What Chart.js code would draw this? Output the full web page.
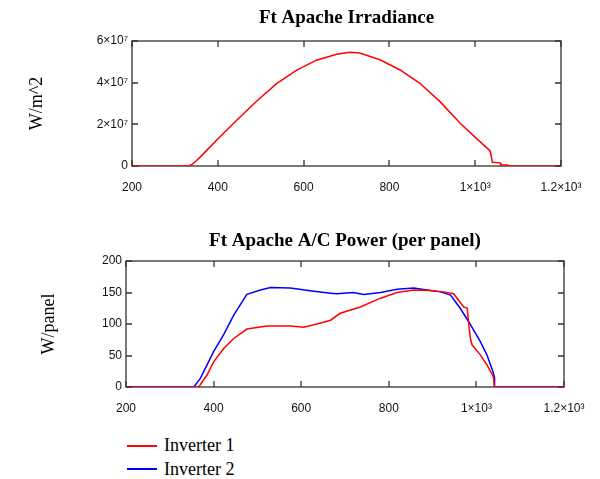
<!DOCTYPE html>
<html>
<head>
<meta charset="utf-8">
<script src="https://cdn.jsdelivr.net/npm/chart.js@4/dist/chart.umd.min.js"></script>
<style>
    body { margin: 0; background: #fff; }
    #wrap { position: relative; width: 600px; height: 479px; }
    canvas { position: absolute; left: 0; }
    #irrChart { top: 0; }
    #powChart { top: 220px; }
    #legend { position: absolute; left: 127px; top: 434px; font: 18px "Liberation Serif", serif; color: #000; }
    .item { height: 23.5px; display: flex; align-items: center; }
    .swatch { width: 30px; height: 2px; margin-right: 7px; }
</style>
</head>
<body>
<div id="wrap">
    <canvas id="irrChart" width="600" height="200"></canvas>
    <canvas id="powChart" width="600" height="200"></canvas>
    <div id="legend"></div>
</div>
<script>
// Irradiancia (minutos del día)
const irrX = [200, 331, 340, 350, 360, 400, 444, 491, 537, 584, 630, 677, 708, 731, 778, 825, 871, 918, 965, 1011, 1035, 1040, 1058, 1060, 1076, 1078, 1200];
const irrY = [0, 0, 0.08e7, 0.25e7, 0.45e7, 1.3e7, 2.2e7, 3.12e7, 3.95e7, 4.6e7, 5.08e7, 5.36e7, 5.46e7, 5.42e7, 5.1e7, 4.61e7, 3.97e7, 3.09e7, 2.05e7, 1.17e7, 0.72e7, 0.18e7, 0.15e7, 0.05e7, 0.05e7, 0, 0];

// Potencia A/C por panel
const inv1X = [200, 366, 385, 400, 423, 446, 476, 522, 575, 606, 636, 667, 689, 735, 781, 819, 857, 895, 925, 948, 971, 979, 984, 987, 990, 1009, 1024, 1039, 1041, 1200];
const inv1Y = [0, 0, 19, 40, 61, 77, 92, 97, 97, 95, 100, 106, 117, 127, 141, 150, 154, 153, 151, 148, 127, 125, 90, 75, 67, 51, 35, 16, 0, 0];
const inv2X = [200, 355, 370, 385, 400, 423, 446, 476, 507, 530, 575, 629, 667, 682, 719, 743, 781, 819, 857, 887, 918, 941, 963, 982, 1009, 1024, 1038, 1041, 1041.5, 1200];
const inv2Y = [0, 0, 14, 35, 56, 83, 114, 147, 154, 158, 157, 152, 149, 148, 150, 147, 150, 155, 157, 154, 151, 146, 125, 104, 72, 51, 24, 16, 0, 0];

const xTicks = [200, 400, 600, 800, 1000, 1200];
const xTickLabels = ['200', '400', '600', '800', '1×10³', '1.2×10³'];
const irrTicks = [0, 2e7, 4e7, 6e7];
const irrTickLabels = ['0', '2×10⁷', '4×10⁷', '6×10⁷'];
const powTicks = [0, 50, 100, 150, 200];

const serif = '"Liberation Serif", "Times New Roman", serif';
const sans = '"Liberation Sans", Arial, sans-serif';

const pares = (xs, ys) => xs.map((x, i) => ({ x: x, y: ys[i] }));

// Marco y marcas hacia dentro
const marco = {
    id: 'marco',
    beforeDatasetsDraw(chart) {
        const { ctx, chartArea: a, scales } = chart;
        ctx.save();
        ctx.strokeStyle = '#333';
        ctx.lineWidth = 1.3;
        ctx.strokeRect(a.left, a.top, a.right - a.left, a.bottom - a.top);
        ctx.beginPath();
        scales.x.ticks.forEach(t => {
            const px = Math.round(scales.x.getPixelForValue(t.value));
            ctx.moveTo(px, a.bottom); ctx.lineTo(px, a.bottom - 6);
            ctx.moveTo(px, a.top); ctx.lineTo(px, a.top + 6);
        });
        scales.y.ticks.forEach(t => {
            const py = Math.round(scales.y.getPixelForValue(t.value));
            ctx.moveTo(a.left, py); ctx.lineTo(a.left + 6, py);
            ctx.moveTo(a.right, py); ctx.lineTo(a.right - 6, py);
        });
        ctx.stroke();
        ctx.restore();
    }
};

function opciones(cfg) {
    return {
        responsive: false,
        animation: false,
        devicePixelRatio: 1,
        layout: { padding: { left: 0, right: cfg.right, top: 0, bottom: 0 } },
        plugins: {
            legend: { display: false },
            tooltip: { enabled: false },
            title: {
                display: true,
                text: cfg.title,
                fullSize: false,
                color: '#000',
                font: { family: serif, size: 19, weight: 'bold' },
                padding: cfg.titlePad
            }
        },
        scales: {
            x: {
                type: 'linear',
                min: 200, max: 1200,
                afterFit: s => { s.height = cfg.xHeight; },
                afterBuildTicks: s => { s.ticks = xTicks.map(v => ({ value: v })); },
                ticks: {
                    padding: 14,
                    color: '#111',
                    font: { family: sans, size: 12 },
                    maxRotation: 0,
                    callback: v => xTickLabels[xTicks.indexOf(v)]
                },
                grid: { display: false, drawTicks: false },
                border: { display: false }
            },
            y: {
                min: 0, max: cfg.yMax,
                afterFit: s => { s.width = cfg.left; },
                afterBuildTicks: s => { s.ticks = cfg.yTicks.map(v => ({ value: v })); },
                ticks: {
                    padding: 4,
                    color: '#111',
                    font: { family: sans, size: 12 },
                    callback: v => cfg.yLabels[cfg.yTicks.indexOf(v)]
                },
                title: {
                    display: true,
                    text: cfg.yTitle,
                    color: '#000',
                    font: { family: serif, size: 18 },
                    padding: { top: cfg.yTitlePad, bottom: 0 }
                },
                grid: { display: false, drawTicks: false },
                border: { display: false }
            }
        }
    };
}

new Chart(document.getElementById('irrChart'), {
    type: 'line',
    data: {
        datasets: [{
            label: 'Irradiance',
            data: pares(irrX, irrY),
            borderColor: '#ff0000',
            borderWidth: 1.5,
            pointRadius: 0,
            tension: 0
        }]
    },
    options: opciones({
        title: 'Ft Apache Irradiance', titlePad: { top: 6.6, bottom: 11.6 },
        right: 39, left: 132, xHeight: 34, yMax: 6e7,
        yTicks: irrTicks, yLabels: irrTickLabels, yTitle: 'W/m^2', yTitlePad: 26
    }),
    plugins: [marco]
});

const potencia = new Chart(document.getElementById('powChart'), {
    type: 'line',
    data: {
        datasets: [{
            label: 'Inverter 1',
            data: pares(inv1X, inv1Y),
            borderColor: '#ff0000',
            borderWidth: 1.5,
            pointRadius: 0,
            tension: 0
        }, {
            label: 'Inverter 2',
            data: pares(inv2X, inv2Y),
            borderColor: '#0000ff',
            borderWidth: 1.5,
            pointRadius: 0,
            tension: 0
        }]
    },
    options: opciones({
        title: 'Ft Apache A/C Power (per panel)', titlePad: { top: 9.6, bottom: 8.6 },
        right: 36, left: 126, xHeight: 33, yMax: 200,
        yTicks: powTicks, yLabels: powTicks.map(String), yTitle: 'W/panel', yTitlePad: 38
    }),
    plugins: [marco]
});

// Leyenda en HTML
const leyenda = document.getElementById('legend');
potencia.data.datasets.forEach(ds => {
    const item = document.createElement('div');
    item.className = 'item';
    const sw = document.createElement('span');
    sw.className = 'swatch';
    sw.style.background = ds.borderColor;
    const txt = document.createElement('span');
    txt.textContent = ds.label;
    item.appendChild(sw);
    item.appendChild(txt);
    leyenda.appendChild(item);
});
</script>
</body>
</html>
